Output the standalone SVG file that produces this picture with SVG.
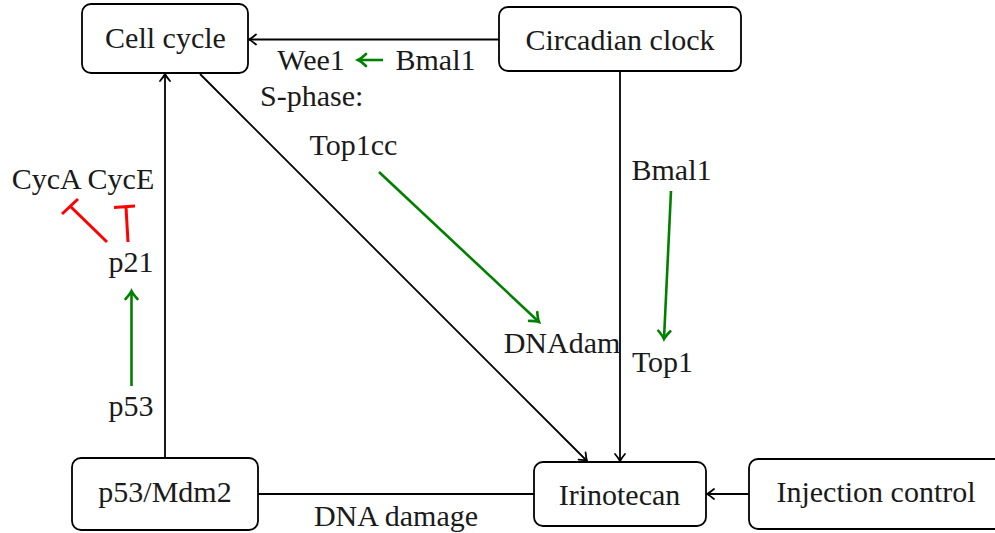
<svg xmlns="http://www.w3.org/2000/svg" width="995" height="533" viewBox="0 0 995 533">
<style>
.box{fill:#fff;stroke:#000;stroke-width:1.8}
.t{font-family:'Liberation Serif','Times New Roman','DejaVu Serif',serif;font-size:30px;fill:#1a1a1a;text-anchor:middle}
.bl{stroke:#000;stroke-width:1.8;fill:none}
.gr{stroke:#008000;stroke-width:2.6;fill:none}
.rd{stroke:#ff0000;stroke-width:3;fill:none}
</style>
<defs>
<marker id="ab" markerUnits="userSpaceOnUse" markerWidth="20" markerHeight="20" refX="0" refY="0" viewBox="-10 -10 20 20" orient="auto" overflow="visible">
<path d="M -7 -5 Q -2.5 -1.2 0 0 Q -2.5 1.2 -7 5" fill="none" stroke="#000" stroke-width="1.8" stroke-linecap="round"/>
</marker>
<marker id="ag" markerUnits="userSpaceOnUse" markerWidth="20" markerHeight="20" refX="0" refY="0" viewBox="-10 -10 20 20" orient="auto" overflow="visible">
<path d="M -8 -6 Q -3 -1.4 0 0 Q -3 1.4 -8 6" fill="none" stroke="#008000" stroke-width="2.6" stroke-linecap="round"/>
</marker>
</defs>

<g id="connectors">
<line class="bl" x1="499" y1="39.5" x2="249" y2="39.5" marker-end="url(#ab)"/>
<line class="bl" x1="620" y1="71" x2="620" y2="461" marker-end="url(#ab)"/>
<line class="bl" x1="200" y1="74" x2="587" y2="461" marker-end="url(#ab)"/>
<line class="bl" x1="165" y1="458" x2="165" y2="74" marker-end="url(#ab)"/>
<line class="bl" x1="749" y1="494" x2="707" y2="494" marker-end="url(#ab)"/>
<line class="bl" x1="258" y1="494" x2="534" y2="494"/>
<line class="gr" x1="383" y1="60" x2="358" y2="60" marker-end="url(#ag)"/>
<line class="gr" x1="379" y1="172" x2="539" y2="322" marker-end="url(#ag)"/>
<line class="gr" x1="671" y1="191" x2="664" y2="339" marker-end="url(#ag)"/>
<line class="gr" x1="131.5" y1="386" x2="131.5" y2="291" marker-end="url(#ag)"/>
<line class="rd" x1="107" y1="242" x2="70" y2="206"/>
<line class="rd" x1="62" y1="214" x2="78" y2="199"/>
<line class="rd" x1="128" y1="242" x2="126" y2="207"/>
<line class="rd" x1="114" y1="207.5" x2="135" y2="206"/>
</g>

<g id="cell-cycle">
<rect class="box" x="82" y="4" width="166" height="69" rx="9"/>
<text class="t" x="165.5" y="48">Cell cycle</text>
</g>
<g id="circadian-clock">
<rect class="box" x="499" y="7" width="242" height="64" rx="9"/>
<text class="t" x="620" y="50">Circadian clock</text>
</g>
<g id="p53-mdm2">
<rect class="box" x="72" y="458" width="186" height="72" rx="9"/>
<text class="t" x="165" y="502">p53/Mdm2</text>
</g>
<g id="irinotecan">
<rect class="box" x="534" y="462" width="172" height="64" rx="9"/>
<text class="t" x="619.5" y="505">Irinotecan</text>
</g>
<g id="injection-control">
<rect class="box" x="749" y="459" width="270" height="70" rx="9"/>
<text class="t" x="876" y="502">Injection control</text>
</g>

<g id="labels">
<text class="t" x="311" y="70">Wee1</text>
<text class="t" x="435.5" y="70">Bmal1</text>
<text class="t" x="260" y="106" style="text-anchor:start">S-phase:</text>
<text class="t" x="353.5" y="155">Top1cc</text>
<text class="t" x="83" y="189">CycA CycE</text>
<text class="t" x="131" y="272">p21</text>
<text class="t" x="131" y="416">p53</text>
<text class="t" x="396" y="526">DNA damage</text>
<text class="t" x="671.5" y="180">Bmal1</text>
<text class="t" x="662.5" y="372">Top1</text>
<text class="t" x="562" y="353">DNAdam</text>
</g>
</svg>
